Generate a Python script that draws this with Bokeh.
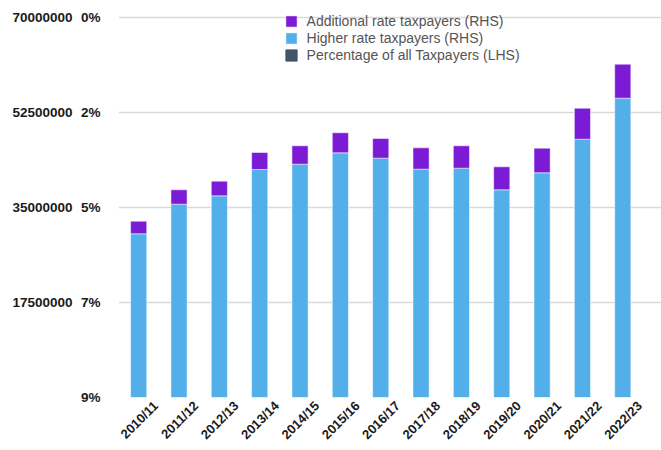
from bokeh.plotting import figure
from bokeh.models import (Range1d, LinearAxis, FixedTicker, Grid, Legend, LegendItem,
                          ColumnDataSource)
from bokeh.embed import file_html
from bokeh.resources import INLINE

nan = float("nan")

# ---- data ----
years = ["2010/11", "2011/12", "2012/13", "2013/14", "2014/15", "2015/16", "2016/17",
         "2017/18", "2018/19", "2019/20", "2020/21", "2021/22", "2022/23"]
higher_rate = [30160000, 35610000, 37150000, 42000000, 42980000, 45070000, 44090000,
               42060000, 42240000, 38260000, 41390000, 47580000, 55130000]
additional_rate = [2320000, 2650000, 2700000, 3130000, 3380000, 3690000, 3620000,
                   3930000, 4120000, 4230000, 4540000, 5710000, 6270000]
# "Percentage of all Taxpayers (LHS)" – in the legend but no visible marks in the reference
pct_all = [nan] * len(years)

num_ticks = [17500000, 35000000, 52500000, 70000000]
num_tick_labels = ["17500000", "35000000", "52500000", "70000000"]
pct_ticks = [0, 2.25, 4.5, 6.75, 9]
pct_tick_labels = ["0%", "2%", "5%", "7%", "9%"]

# ---- figure ----
idx = list(range(len(years)))
total = [h + a for h, a in zip(higher_rate, additional_rate)]
src = ColumnDataSource(dict(x=idx, higher=higher_rate, total=total, pct=pct_all))

Y_TOP = 72210000  # a little headroom above 70,000,000 for the legend
p = figure(width=661, height=450, output_backend="svg", toolbar_location=None,
           x_range=Range1d(-0.5, len(years) - 0.04), y_range=Range1d(0, Y_TOP),
           x_axis_location=None, y_axis_location=None,
           min_border_left=118, min_border_right=0, min_border_top=5, min_border_bottom=53)
p.outline_line_color = None
p.extra_y_ranges = {"pct": Range1d(start=9, end=9 - 9 * Y_TOP / 70000000)}
p.extra_x_ranges = {"lbl": Range1d(-0.5 - 0.42, len(years) - 0.04 - 0.42)}
for g in p.grid:
    g.visible = False

grid = Grid(dimension=1, ticker=FixedTicker(ticks=[0] + num_ticks),
            grid_line_color="#d9d9d9", grid_line_width=1.5)
p.add_layout(grid)

blue = p.vbar(x="x", top="higher", bottom=0, width=0.4, source=src,
              fill_color="#53afe9", line_color="#ffffff", line_alpha=0.5, line_width=1)
purple = p.vbar(x="x", top="total", bottom="higher", width=0.4, source=src,
                fill_color="#7c1bd6", line_color="#ffffff", line_alpha=0.5, line_width=1)
pct_r = p.vbar(x="x", top="pct", width=0.4, source=src, y_range_name="pct",
               fill_color="#44546a", line_color="#44546a")

def style_axis(ax, size="13.5px"):
    ax.axis_line_color = None
    ax.major_tick_line_color = None
    ax.minor_tick_line_color = None
    ax.major_tick_out = 0
    ax.major_tick_in = 0
    ax.minor_tick_out = 0
    ax.minor_tick_in = 0
    ax.major_label_text_font = "Liberation Sans"
    ax.major_label_text_font_style = "bold"
    ax.major_label_text_font_size = size
    ax.major_label_text_color = "#1a1a1a"

pct_axis = LinearAxis(y_range_name="pct", ticker=FixedTicker(ticks=pct_ticks),
                      major_label_overrides=dict(zip(pct_ticks, pct_tick_labels)))
style_axis(pct_axis)
pct_axis.major_label_standoff = 18
p.add_layout(pct_axis, "left")

num_axis = LinearAxis(ticker=FixedTicker(ticks=num_ticks),
                      major_label_overrides=dict(zip(num_ticks, num_tick_labels)))
style_axis(num_axis)
num_axis.major_label_standoff = 5
p.add_layout(num_axis, "left")

x_axis = LinearAxis(x_range_name="lbl", ticker=FixedTicker(ticks=idx),
                    major_label_overrides=dict(zip(idx, years)))
style_axis(x_axis, "13px")
x_axis.major_label_orientation = 0.785398
x_axis.major_label_standoff = 6
p.add_layout(x_axis, "below")

legend = Legend(items=[
    LegendItem(label="Additional rate taxpayers (RHS)", renderers=[purple]),
    LegendItem(label="Higher rate taxpayers (RHS)", renderers=[blue]),
    LegendItem(label="Percentage of all Taxpayers (LHS)", renderers=[pct_r]),
], location=(165.6, 334.3), orientation="vertical")
legend.border_line_color = None
legend.background_fill_alpha = 0
legend.padding = 0
legend.margin = 0
legend.spacing = 1
legend.glyph_width = 14
legend.glyph_height = 14
legend.label_height = 14
legend.label_standoff = 9
legend.label_text_font = "Liberation Sans"
legend.label_text_font_size = "14px"
legend.label_text_color = "#555555"
p.add_layout(legend, "center")

open("out.html", "w").write(file_html(p, INLINE))
